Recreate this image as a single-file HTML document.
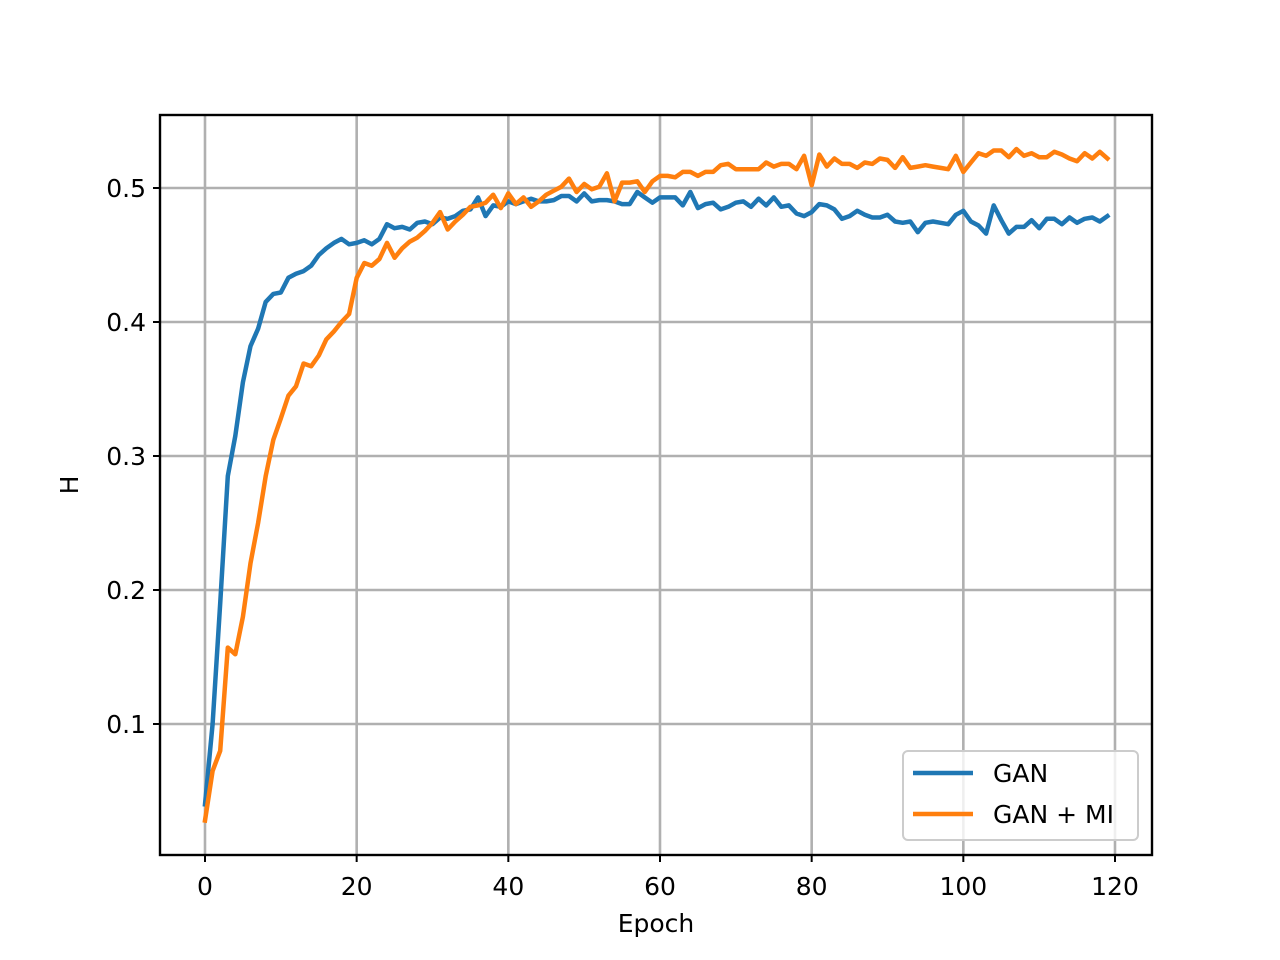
<!DOCTYPE html>
<html><head><meta charset="utf-8"><style>
body{margin:0;background:#fff;}
svg{display:block;font-family:"DejaVu Sans","Liberation Sans",sans-serif;}
</style></head><body>
<svg id="chart" width="1280" height="960" viewBox="0 0 1280 960"></svg>
<script>
const epochs = Array.from({length:120},(_,i)=>i);
const ganValues = [0.040,0.10,0.19,0.285,0.315,0.355,0.382,0.395,0.415,0.421,0.422,0.433,0.436,0.438,0.442,0.450,0.455,0.459,0.462,0.458,0.459,0.461,0.458,0.462,0.473,0.470,0.471,0.469,0.474,0.475,0.473,0.478,0.477,0.479,0.483,0.484,0.493,0.479,0.487,0.486,0.490,0.488,0.490,0.492,0.490,0.490,0.491,0.494,0.494,0.490,0.496,0.490,0.491,0.491,0.490,0.488,0.488,0.497,0.493,0.489,0.493,0.493,0.493,0.487,0.497,0.485,0.488,0.489,0.484,0.486,0.489,0.490,0.486,0.492,0.487,0.493,0.486,0.487,0.481,0.479,0.482,0.488,0.487,0.484,0.477,0.479,0.483,0.480,0.478,0.478,0.480,0.475,0.474,0.475,0.467,0.474,0.475,0.474,0.473,0.480,0.483,0.475,0.472,0.466,0.487,0.476,0.466,0.471,0.471,0.476,0.470,0.477,0.477,0.473,0.478,0.474,0.477,0.478,0.475,0.479];
const ganMiValues = [0.028,0.065,0.080,0.157,0.152,0.18,0.22,0.25,0.285,0.312,0.328,0.345,0.352,0.369,0.367,0.375,0.387,0.393,0.400,0.406,0.433,0.444,0.442,0.447,0.459,0.448,0.455,0.460,0.463,0.468,0.474,0.482,0.469,0.475,0.480,0.486,0.487,0.489,0.495,0.485,0.496,0.488,0.493,0.486,0.490,0.495,0.498,0.501,0.507,0.497,0.503,0.499,0.501,0.511,0.490,0.504,0.504,0.505,0.497,0.505,0.509,0.509,0.508,0.512,0.512,0.509,0.512,0.512,0.517,0.518,0.514,0.514,0.514,0.514,0.519,0.516,0.518,0.518,0.514,0.524,0.502,0.525,0.516,0.522,0.518,0.518,0.515,0.519,0.518,0.522,0.521,0.515,0.523,0.515,0.516,0.517,0.516,0.515,0.514,0.524,0.512,0.519,0.526,0.524,0.528,0.528,0.523,0.529,0.524,0.526,0.523,0.523,0.527,0.525,0.522,0.520,0.526,0.522,0.527,0.522];
const xTicks = [0,20,40,60,80,100,120];
const yTicks = [0.1,0.2,0.3,0.4,0.5];

const NS="http://www.w3.org/2000/svg";
const svg=document.getElementById('chart');
const L=160,R=1152,T=115,B=855;
const xs=v=>205+(1115-205)*v/120;
const ys=v=>724-(724-188)*(v-0.1)/0.4;
function mk(tag,attrs,parent){const e=document.createElementNS(NS,tag);for(const k in attrs)e.setAttribute(k,attrs[k]);(parent||svg).appendChild(e);return e;}

const grid=mk('g',{});


xTicks.forEach(t=>{
  const l=mk('line',{x1:xs(t),x2:xs(t),y1:T,y2:B,stroke:'#b0b0b0','stroke-width':2.6},grid);
  
  
  const tk=mk('line',{x1:xs(t),x2:xs(t),y1:B,y2:B+7,stroke:'#000','stroke-width':2});
  
  
  const tx=mk('text',{x:xs(t),y:B+40,'text-anchor':'middle','font-size':25});
  tx.textContent=t;
  
  
});
yTicks.forEach(t=>{
  const l=mk('line',{x1:L,x2:R,y1:ys(t),y2:ys(t),stroke:'#b0b0b0','stroke-width':2.6},grid);
  
  
  const tk=mk('line',{x1:L-7,x2:L,y1:ys(t),y2:ys(t),stroke:'#000','stroke-width':2});
  
  
  const tx=mk('text',{x:L-14,y:ys(t)+9,'text-anchor':'end','font-size':25});
  tx.textContent=t.toFixed(1);
  
  
});
function series(vals,color,name){
  const d=vals.map((v,i)=>(i?'L':'M')+xs(epochs[i]).toFixed(1)+','+ys(v).toFixed(1)).join(' ');
  const p=mk('path',{d:d,fill:'none',stroke:color,'stroke-width':4.5,'stroke-linejoin':'round','stroke-linecap':'square'});
  
  
}
series(ganValues,'#1f77b4','gan-line');
series(ganMiValues,'#ff7f0e','gan-mi-line');
const frame=mk('rect',{x:L,y:T,width:R-L,height:B-T,fill:'none',stroke:'#000','stroke-width':2.4});


const xl=mk('text',{x:656,y:932,'text-anchor':'middle','font-size':25});
xl.textContent='Epoch';


const yl=mk('text',{x:78,y:485,'text-anchor':'middle','font-size':25,transform:'rotate(-90 78 485)'});
yl.textContent='H';


const lg=mk('g',{});


mk('rect',{x:903,y:751,width:235,height:89,rx:5,fill:'#fff','fill-opacity':0.8,stroke:'#ccc','stroke-width':2},lg);
[['GAN','#1f77b4',773],['GAN + MI','#ff7f0e',814]].forEach(([n,c,y])=>{
  const e=mk('g',{},lg);
  
  
  mk('line',{x1:913,x2:973,y1:y,y2:y,stroke:c,'stroke-width':4.5},e);
  const t=mk('text',{x:993,y:y+9,'font-size':25},e);
  t.textContent=n;
});
</script>
</body></html>
